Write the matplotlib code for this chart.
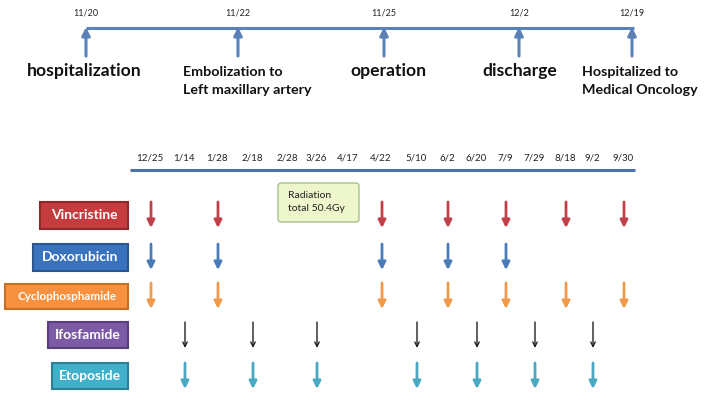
import matplotlib.pyplot as plt
import matplotlib.patches as patches

# upper timeline: hospital course
event_dates = ["11/20", "11/22", "11/25", "12/2", "12/19"]
event_labels = ["hospitalization", "Embolization to\nLeft maxillary artery", "operation",
                "discharge", "Hospitalized to\nMedical Oncology"]

# lower timeline: treatment dates
treat_dates = ["12/25", "1/14", "1/28", "2/18", "2/28", "3/26", "4/17", "4/22",
               "5/10", "6/2", "6/20", "7/9", "7/29", "8/18", "9/2", "9/30"]
drugs = ["Vincristine", "Doxorubicin", "Cyclophosphamide", "Ifosfamide", "Etoposide"]
drug_dates = {
    "Vincristine": ["12/25", "1/28", "4/22", "6/2", "7/9", "8/18", "9/30"],
    "Doxorubicin": ["12/25", "1/28", "4/22", "6/2", "7/9"],
    "Cyclophosphamide": ["12/25", "1/28", "4/22", "6/2", "7/9", "8/18", "9/30"],
    "Ifosfamide": ["1/14", "2/18", "3/26", "5/10", "6/20", "7/29", "9/2"],
    "Etoposide": ["1/14", "2/18", "3/26", "5/10", "6/20", "7/29", "9/2"],
}
radiation_text = "Radiation\ntotal 50.4Gy"
radiation_span = ("2/28", "4/17")

# layout (pixel positions)
event_x = [86, 238, 384, 519, 632]
event_text_x = [84, 183, 388, 520, 582]
treat_x = [150, 184, 217, 252, 287, 316, 348, 381, 416, 447, 476, 505, 534, 565, 592, 623]
row_y = [215, 257, 296, 335, 376]
box_left = [40, 33, 5, 48, 52]
box_right = 128
box_h = [27, 27, 25, 26, 26]
face = ["#c43c3e", "#3a73bd", "#f7913f", "#7d5aa6", "#40b0cb"]
edge = ["#8e2a2c", "#2a5590", "#c66f25", "#5a3f7c", "#2c8198"]
arrow_col = ["#c2404a", "#4a7cb8", "#f09a4c", "#222222", "#4aa8c0"]
label_size = [10, 10, 8.4, 10, 10]

plt.rcParams['font.family'] = ['Lato', 'DejaVu Sans']

fig = plt.figure(figsize=(7.04, 4.0), dpi=100)
ax = fig.add_axes([0, 0, 1, 1])
ax.set_xlim(0, 704)
ax.set_ylim(400, 0)
ax.axis('off')

# upper timeline
line_col = "#5b82b8"
ax.plot([event_x[0], event_x[-1] + 2], [28, 28], color=line_col, lw=2.2, solid_capstyle='butt')
for i, (d, lab) in enumerate(zip(event_dates, event_labels)):
    x = event_x[i]
    ax.annotate("", xy=(x, 27), xytext=(x, 56),
                arrowprops=dict(arrowstyle='-|>', color=line_col, lw=2.2,
                                mutation_scale=12, shrinkA=0, shrinkB=0))
    ax.text(x, 13, d, ha='center', va='center', fontsize=6.5, color='#222222')
    if "\n" in lab:
        ax.text(event_text_x[i], 81, lab, ha='left', va='center', fontsize=10.3,
                fontweight='bold', color='#111111', linespacing=1.6)
    else:
        ax.text(event_text_x[i], 71, lab, ha='center', va='center', fontsize=12.6,
                fontweight='bold', color='#111111')

# lower timeline
ax.plot([130, 635], [170, 170], color="#4a74a8", lw=2.2, solid_capstyle='butt')
for d, x in zip(treat_dates, treat_x):
    ax.text(x, 158, d, ha='center', va='center', fontsize=7, color='#222222')

# radiation box
rx0 = treat_x[treat_dates.index(radiation_span[0])] - 9
rx1 = treat_x[treat_dates.index(radiation_span[1])] + 11
ax.add_patch(patches.FancyBboxPatch((rx0, 183), rx1 - rx0, 39,
                                    boxstyle="round,pad=0,rounding_size=3",
                                    facecolor="#eef7cc", edgecolor="#a9bf8e", lw=1))
ax.text(rx0 + 10, 202, radiation_text, ha='left', va='center', fontsize=7.5,
        color='#222222', linespacing=1.6)

# drug rows
for i, drug in enumerate(drugs):
    y = row_y[i]
    h = box_h[i]
    ax.add_patch(patches.Rectangle((box_left[i], y - h / 2), box_right - box_left[i], h,
                                   facecolor=face[i], edgecolor=edge[i], lw=1.5))
    ax.text((box_left[i] + box_right) / 2, y, drug, ha='center', va='center',
            fontsize=label_size[i], fontweight='bold', color='white')
    thin = drug == "Ifosfamide"
    for d in drug_dates[drug]:
        x = treat_x[treat_dates.index(d)] + 1
        ax.annotate("", xy=(x, y + 13), xytext=(x, y - 13),
                    arrowprops=dict(arrowstyle='->' if thin else '-|>',
                                    color=arrow_col[i], lw=1 if thin else 2,
                                    mutation_scale=8 if thin else 11,
                                    shrinkA=0, shrinkB=0))

fig.savefig("out.png", dpi=100)
